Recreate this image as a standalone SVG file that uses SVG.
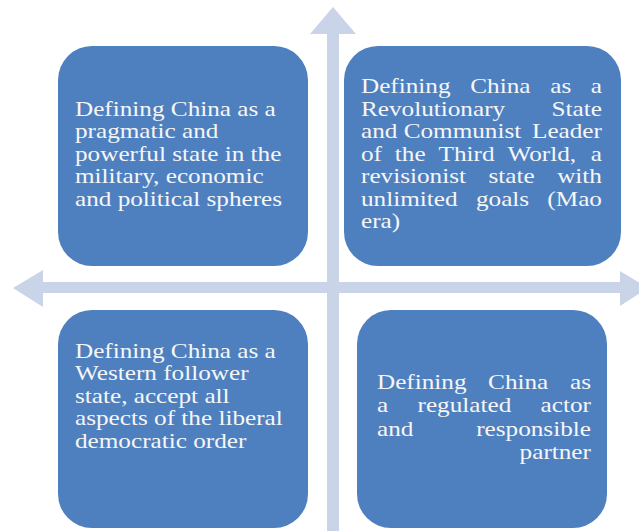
<svg xmlns="http://www.w3.org/2000/svg" width="639" height="531" viewBox="0 0 639 531">
<style>
.box{fill:#4e80c0;}
.ax{fill:#cad4e8;}
.t{font-family:"Liberation Serif","Times New Roman",serif;font-size:21px;fill:#f6f6f6;}
.e{text-anchor:end;}
</style>
<rect width="639" height="531" fill="#ffffff"/>
<g id="connectors">
<rect class="ax" x="327" y="32" width="12" height="499"/>
<polygon class="ax" points="310,34 333,7 356,34"/>
<rect class="ax" x="42" y="282" width="580" height="11"/>
<polygon class="ax" points="43,270 13,288 43,307"/>
<polygon class="ax" points="620,271 648,288 620,306"/>
</g>
<g id="node-top-left">
<rect class="box" x="58" y="46" width="250" height="220" rx="34"/>
<g class="t" transform="translate(75,0) scale(1.2,1)">
<text x="0" y="116">Defining China as a</text>
<text x="0" y="138.5">pragmatic  and</text>
<text x="0" y="161">powerful state in the</text>
<text x="0" y="183.5">military, economic</text>
<text x="0" y="206">and political spheres</text>
</g>
</g>
<g id="node-top-right">
<rect class="box" x="344" y="46" width="277" height="220" rx="34"/>
<g class="t" transform="translate(361,0) scale(1.2,1)">
<text x="0" y="93">Defining</text><text x="91.1" y="93">China</text><text x="157.7" y="93">as</text><text class="e" x="200.8" y="93">a</text>
<text x="0" y="116">Revolutionary</text><text class="e" x="200.8" y="116">State</text>
<text x="0" y="138.5">and Communist</text><text class="e" x="200.8" y="138.5">Leader</text>
<text x="0" y="161">of</text><text x="28.2" y="161">the</text><text x="64.6" y="161">Third</text><text x="122" y="161">World,</text><text class="e" x="200.8" y="161">a</text>
<text x="0" y="183.5">revisionist</text><text x="106.3" y="183.5">state</text><text class="e" x="200.8" y="183.5">with</text>
<text x="0" y="206">unlimited</text><text x="95.8" y="206">goals</text><text class="e" x="200.8" y="206">(Mao</text>
<text x="0" y="228.5">era)</text>
</g>
</g>
<g id="node-bottom-left">
<rect class="box" x="58" y="310" width="250" height="218" rx="34"/>
<g class="t" transform="translate(75,0) scale(1.2,1)">
<text x="0" y="358">Defining China as a</text>
<text x="0" y="380.5">Western  follower</text>
<text x="0" y="403">state,  accept all</text>
<text x="0" y="425.5">aspects of the liberal</text>
<text x="0" y="448">democratic order</text>
</g>
</g>
<g id="node-bottom-right">
<rect class="box" x="357" y="310" width="250" height="218" rx="34"/>
<g class="t" transform="translate(377,0) scale(1.2,1)">
<text x="0" y="389">Defining</text><text x="92.6" y="389">China</text><text class="e" x="178.3" y="389">as</text>
<text x="0" y="412.5">a</text><text x="33.8" y="412.5">regulated</text><text class="e" x="178.3" y="412.5">actor</text>
<text x="0" y="436">and</text><text class="e" x="178.3" y="436">responsible</text>
<text class="e" x="178.3" y="459.5">partner</text>
</g>
</g>
</svg>
